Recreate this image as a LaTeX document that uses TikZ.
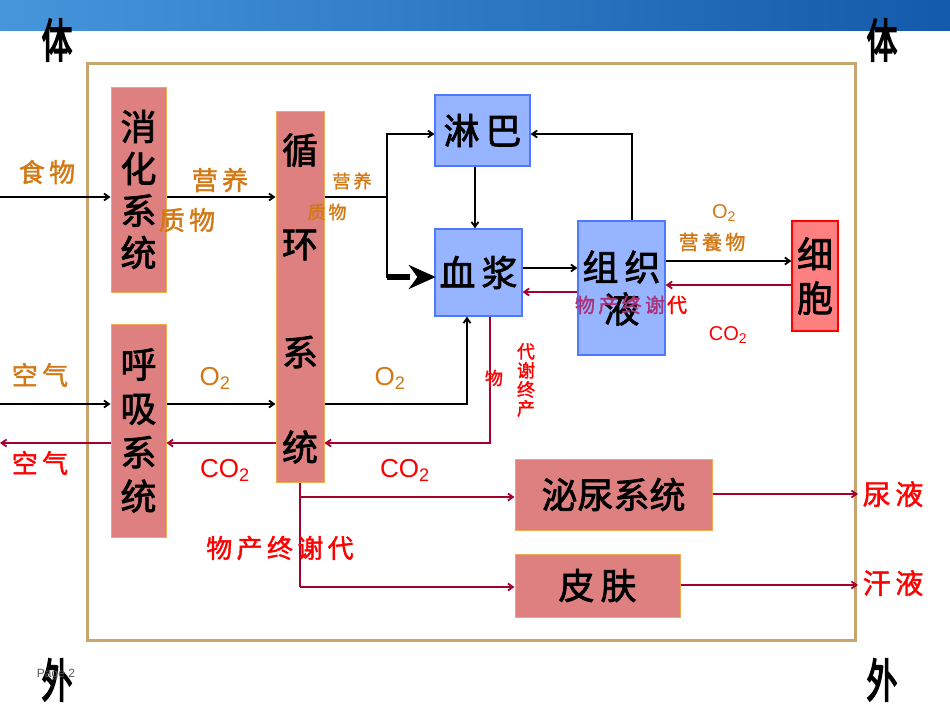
\documentclass[tikz,border=0pt]{standalone}
\usepackage{fontspec}
\setmainfont{Liberation Sans}
\newfontfamily\cjk[FakeBold=2]{Noto Sans CJK SC}
\newfontfamily\cjkh[FakeBold=4]{Noto Sans CJK SC}
\newfontfamily\cjkl[FakeBold=1.5]{Noto Sans CJK SC}
\usetikzlibrary{arrows.meta}
\definecolor{boxred}{RGB}{222,128,128}
\definecolor{boxor}{RGB}{240,170,80}
\definecolor{boxblue}{RGB}{150,180,255}
\definecolor{blueedge}{RGB}{80,120,255}
\definecolor{lab}{RGB}{210,120,20}
\definecolor{dred}{RGB}{165,0,45}
\definecolor{frame}{RGB}{200,165,110}
\definecolor{purp}{RGB}{170,50,120}
\definecolor{bandl}{RGB}{70,150,220}
\definecolor{bandr}{RGB}{20,90,170}
\begin{document}
\begin{tikzpicture}[x=1pt,y=-1pt,
  sys/.style={draw=boxor,fill=boxred,line width=1pt,inner sep=0pt},
  bl/.style={draw=blueedge,fill=boxblue,line width=1.2pt,inner sep=0pt},
  big/.style={font=\cjk\fontsize{36}{40}\selectfont},
  lbl/.style={font=\cjkl\fontsize{26}{28}\selectfont,text=lab,inner sep=0pt},
  rlbl/.style={font=\cjkl\fontsize{26}{28}\selectfont,text=red,inner sep=0pt},
  nlbl/.style={font=\fontsize{26}{28}\selectfont,inner sep=0pt},
  blk/.style={line width=1.8pt,-{Straight Barb[length=5pt,width=7pt]}},
  red/.style={draw=dred,line width=1.8pt,-{Straight Barb[length=5pt,width=7pt]}},
  line/.style={line width=1.8pt},
  rline/.style={draw=dred,line width=1.8pt}]
\useasboundingbox (0,0) rectangle (950,713);
\fill[white] (0,0) rectangle (950,713);
\shade[left color=bandl, right color=bandr] (0,0) rectangle (950,30);
\draw[frame,line width=3pt] (87,63) rectangle (855,640);
\foreach \x in {57,882}{
 \node[font=\cjkh\fontsize{44}{44}\selectfont,xscale=0.7,yscale=1.05] (t\x) at (\x,40) {体};
 \node[font=\cjkh\fontsize{44}{44}\selectfont,xscale=0.7,yscale=1.05] (b\x) at (\x,680) {外};}
\node[font=\fontsize{12}{12}\selectfont,text=gray!70!black] (pg) at (56,675) {Page 2};
% systems
\node[sys,minimum width=55pt,minimum height=205pt,big,align=center] (xh) at (138.5,189.5) {消\\[2pt]化\\[2pt]系\\[2pt]统};
\node[sys,minimum width=55pt,minimum height=213pt,big,align=center] (hx) at (138.5,430.5) {呼\\[4pt]吸\\[4pt]系\\[4pt]统};
\node[sys,minimum width=48pt,minimum height=371pt] (xc) at (300,296.5) {};
\foreach \c/\y in {循/150,环/245,系/352,统/447}{\node[big] (xc\y) at (300,\y) {\c};}
\node[bl,minimum width=95pt,minimum height=71pt,big] (lb) at (482.5,130.5) {淋\,巴};
\node[bl,minimum width=87pt,minimum height=87pt,big] (xj) at (478.5,272.5) {血\,浆};
\node[bl,minimum width=87pt,minimum height=134pt,big,align=center] (zz) at (621.5,288) {组\,织\\[2pt]液};
\node[draw=red,fill=red!50!white,line width=1.2pt,inner sep=0pt,minimum width=46pt,minimum height=110pt,big,align=center] (xb) at (815,276) {细\\[4pt]胞};
\node[sys,minimum width=197pt,minimum height=71pt,big] (mn) at (613.5,494.5) {泌尿系统};
\node[sys,minimum width=165pt,minimum height=63pt,big] (pf) at (597.5,585.5) {皮\,肤};
% coordinates
\coordinate (lin) at (0,197); \coordinate (ain) at (0,404); \coordinate (aout) at (0,443);
\coordinate (sp) at (387,197); \coordinate (ny) at (858,494); \coordinate (hy) at (858,585);
% food path
\draw[blk] (lin) -- (xh.west|-lin);
\draw[blk] (xh.east|-lin) -- (xc.west|-lin);
\draw[line] (xc.east|-lin) -- (sp);
\draw[blk] (sp) |- (lb.west|-0,134);
\draw[line] (sp) |- (410,277);
\draw[line width=6pt] (387,277) -- (410,277);
\draw[line width=1pt,fill=black] (xj.west|-0,277) -- (410,266) -- (418,277) -- (410,288) -- cycle;
\draw[blk] (lb.south-|475,0) -- (xj.north-|475,0);
\draw[blk] (zz.north-|632,0) |- (lb.east|-0,134);
\draw[blk] (xj.east|-0,268) -- (zz.west|-0,268);
\draw[red] (zz.west|-0,292) -- (xj.east|-0,292);
\draw[blk] (zz.east|-0,261) -- (xb.west|-0,261);
\draw[red] (xb.west|-0,285) -- (zz.east|-0,285);
% air
\draw[blk] (ain) -- (hx.west|-ain);
\draw[blk] (hx.east|-ain) -- (xc.west|-ain);
\draw[blk] (xc.east|-ain) -| (xj.south-|467,0);
\draw[red] (xj.south-|490,0) |- (xc.east|-aout);
\draw[red] (xc.west|-aout) -- (hx.east|-aout);
\draw[red] (hx.west|-aout) -- (aout);
\draw[rline] (xc.south) -- (300,587);
\draw[red] (300,497) -- (mn.west|-0,497);
\draw[red] (300,587) -- (pf.west|-0,587);
\draw[red] (mn.east|-ny) -- (ny);
\draw[red] (pf.east|-hy) -- (hy);
% labels
\node[lbl] (l1) at (47,172) {食\,物};
\node[lbl] (l2) at (220,180) {营\,养};
\node[lbl] (l3) at (187,220) {质\,物};
\node[lbl,font=\cjkl\fontsize{18}{20}\selectfont] (l4) at (352,181) {营\,养};
\node[lbl,font=\cjkl\fontsize{18}{20}\selectfont] (l5) at (327,212) {质\,物};
\node[nlbl,text=lab,font=\fontsize{20}{22}\selectfont] (l6) at (724,213) {O\textsubscript{2}};
\node[lbl,font=\cjkl\fontsize{20}{22}\selectfont] (l7) at (712,242) {营\,養\,物};
\node[rlbl,font=\cjkl\fontsize{20}{22}\selectfont,text=purp] (l8) at (620,305) {物\,产\,终\,谢};
\node[rlbl,font=\cjkl\fontsize{20}{22}\selectfont] (l8b) at (677,305) {代};
\node[nlbl,text=red,font=\fontsize{20}{22}\selectfont] (l9) at (728,335) {CO\textsubscript{2}};
\node[lbl] (l10) at (40,375) {空\,气};
\node[rlbl] (l11) at (40,463) {空\,气};
\node[nlbl,text=lab] (l12) at (215,378) {O\textsubscript{2}};
\node[nlbl,text=lab] (l13) at (390,378) {O\textsubscript{2}};
\node[nlbl,text=red] (l14) at (225,470) {CO\textsubscript{2}};
\node[nlbl,text=red] (l15) at (405,470) {CO\textsubscript{2}};
\node[rlbl,font=\cjkl\fontsize{18}{20}\selectfont] (l16) at (494,378) {物};
\node[rlbl,font=\cjkl\fontsize{18}{20}\selectfont,align=center] (l17) at (526,380) {代\\[-1pt]谢\\[-1pt]终\\[-1pt]产};
\node[rlbl] (l18) at (280,548) {物\,产\,终\,谢\,代};
\node[rlbl,font=\cjkl\fontsize{28}{30}\selectfont] (l19) at (893,494) {尿\,液};
\node[rlbl,font=\cjkl\fontsize{28}{30}\selectfont] (l20) at (893,583) {汗\,液};
\end{tikzpicture}
\end{document}
